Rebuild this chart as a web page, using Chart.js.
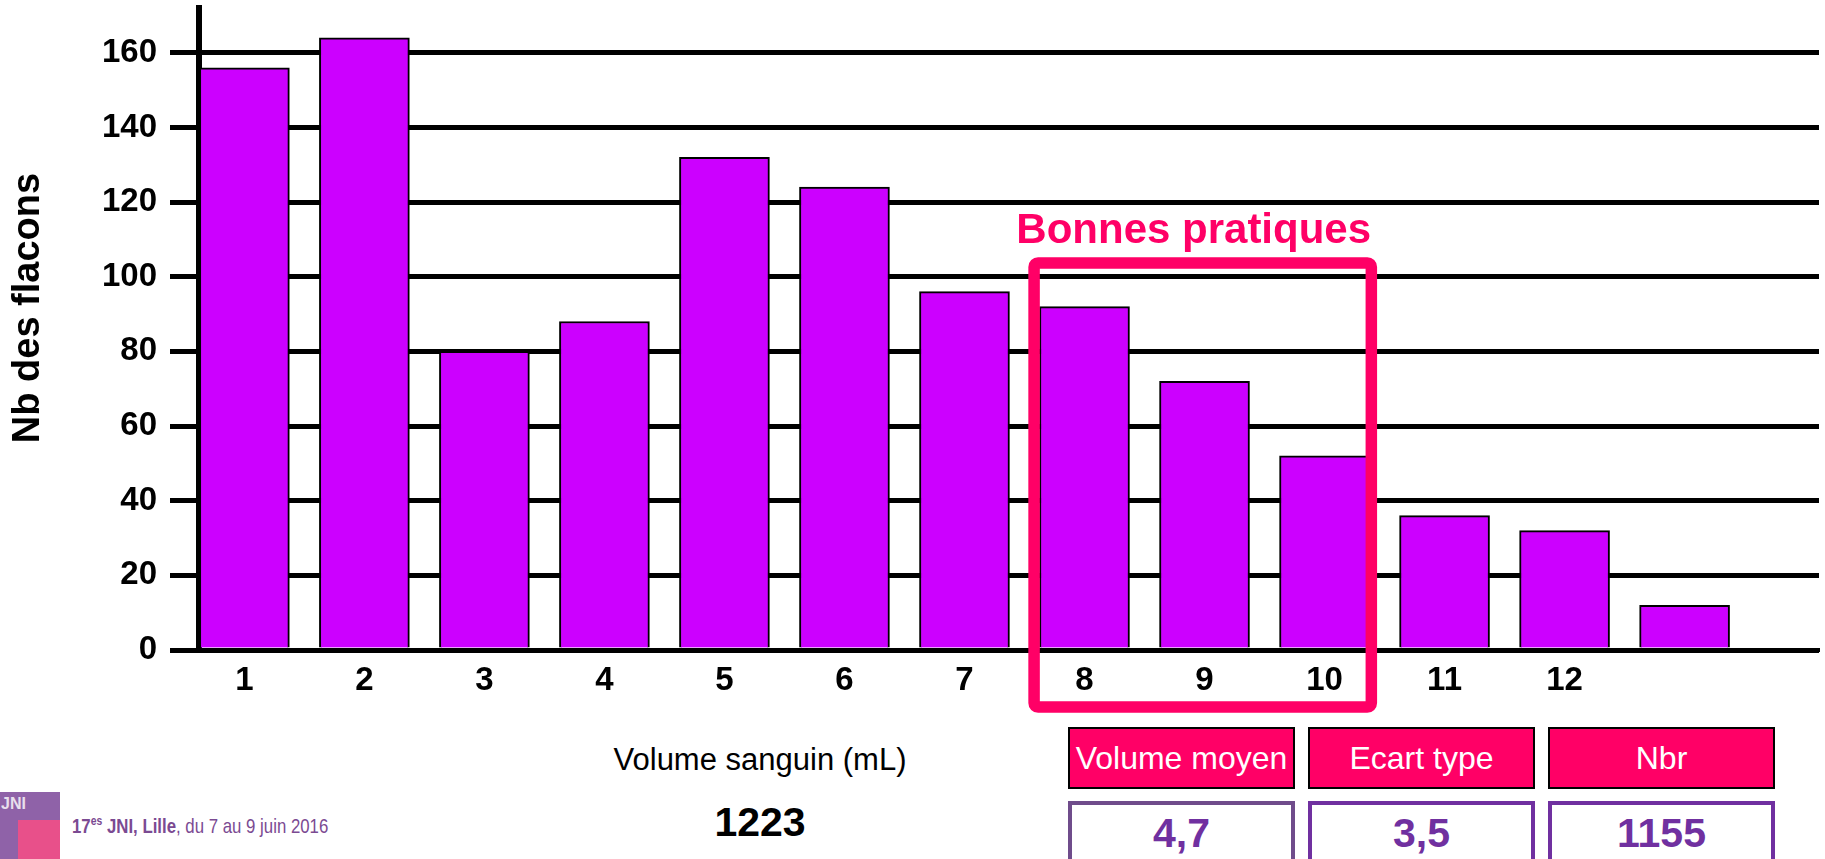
<!DOCTYPE html>
<html lang="fr">
<head>
<meta charset="UTF-8">
<title>Nb des flacons par volume sanguin</title>
<script src="https://cdn.jsdelivr.net/npm/chart.js"></script>
<style>
    html, body { margin: 0; padding: 0; background: #fff; overflow: hidden; }
    body { width: 1825px; height: 859px; position: relative; font-family: "Liberation Sans", Arial, sans-serif; }
    #chart { position: absolute; left: 0; top: 0; }
    .txt { position: absolute; white-space: nowrap; line-height: 1; text-align: center; }
    #axisLabel { left: 560px; width: 400px; top: 744px; font-size: 31px; color: #000; }
    #total { left: 560px; width: 400px; top: 802px; font-size: 41px; font-weight: bold; color: #000; }
    .row { position: absolute; left: 1068px; display: flex; gap: 13px; }
    #headRow { top: 727px; }
    #valueRow { top: 801px; }
    .head { box-sizing: border-box; width: 227px; height: 62px; border: 2px solid #000; background: #FF0066;
            color: #fff; font-size: 32px; line-height: 58px; text-align: center; white-space: nowrap; }
    .value { box-sizing: border-box; width: 227px; height: 80px; border: 4px solid #7030A0; border-bottom: none;
             color: #7030A0; font-size: 41px; font-weight: bold; line-height: 1; padding-top: 8px; text-align: center; }
    .value:first-child { border-color: #6F4C8B; }
    #logo { position: absolute; left: 0; top: 792px; width: 60px; height: 67px; background: #8F62A8; overflow: hidden; }
    #logo .pink { position: absolute; left: 18px; top: 28px; width: 42px; height: 40px; background: #E8508A; }
    #logo .big { position: absolute; left: 1px; top: 3px; color: #fff; font: bold 16px "Liberation Sans", Arial, sans-serif; opacity: 0.8; }
    #footer { position: absolute; left: 72px; top: 815px; font-family: "Liberation Sans", Arial, sans-serif;
              font-size: 21px; line-height: 1; color: #7B4A92; white-space: nowrap;
              transform: scaleX(0.8); transform-origin: 0 0; }
    #footer sup { font-size: 13px; vertical-align: 8px; line-height: 0; }
</style>
</head>
<body>
<canvas id="chart" width="1825" height="720"></canvas>

<div id="axisLabel" class="txt">Volume sanguin (mL)</div>
<div id="total" class="txt"></div>

<div id="headRow" class="row"></div>
<div id="valueRow" class="row"></div>

<div id="logo"><div class="pink"></div><div class="big">JNI</div></div>
<div id="footer"><b>17<sup>es</sup> JNI, Lille</b>, du 7 au 9 juin 2016</div>

<script>
    // Data
    const volumes = ['1', '2', '3', '4', '5', '6', '7', '8', '9', '10', '11', '12', ''];
    const flacons = [156, 164, 80, 88, 132, 124, 96, 92, 72, 52, 36, 32, 12];
    const yTicks = [0, 20, 40, 60, 80, 100, 120, 140, 160];
    const goodPractice = [8, 10];          // categories inside the "Bonnes pratiques" frame
    const statHeaders = ['Volume moyen', 'Ecart type', 'Nbr'];
    const statValues = ['4,7', '3,5', '1155'];
    const totalVolume = '1223';

    const FONT = '"Liberation Sans", Arial, sans-serif';

    document.getElementById('total').textContent = totalVolume;
    const headRow = document.getElementById('headRow');
    const valueRow = document.getElementById('valueRow');
    statHeaders.forEach((h, i) => {
        const hd = document.createElement('div');
        hd.className = 'head';
        hd.textContent = h;
        headRow.appendChild(hd);
        const vd = document.createElement('div');
        vd.className = 'value';
        vd.textContent = statValues[i];
        valueRow.appendChild(vd);
    });

    // y title (placed a bit above the plot centre, as in the slide) + pink frame
    const framePlugin = {
        id: 'bonnesPratiques',
        afterDraw(chart) {
            const { ctx, scales: { x, y } } = chart;

            ctx.save();
            ctx.translate(29, 308);
            ctx.rotate(-Math.PI / 2);
            ctx.fillStyle = '#000';
            ctx.font = 'bold 38px ' + FONT;
            ctx.textAlign = 'center';
            ctx.textBaseline = 'middle';
            ctx.fillText('Nb des flacons', 0, 0);
            ctx.restore();

            const left = x.getPixelForValue(goodPractice[0] - 0.42);
            const right = x.getPixelForValue(goodPractice[1] + 0.39);
            const top = y.getPixelForValue(103.7);
            const bottom = y.getPixelForValue(-15.3);
            ctx.save();
            ctx.strokeStyle = '#FF0066';
            ctx.lineWidth = 11.5;
            ctx.beginPath();
            ctx.roundRect(left, top, right - left, bottom - top, 4);
            ctx.stroke();
            ctx.fillStyle = '#FF0066';
            ctx.font = 'bold 42px ' + FONT;
            ctx.textAlign = 'center';
            ctx.textBaseline = 'alphabetic';
            ctx.fillText('Bonnes pratiques', x.getPixelForValue(8.91), y.getPixelForValue(109));
            ctx.restore();
        }
    };

    // no automatic label padding: the plot area is placed by hand
    const noPad = s => { s.paddingTop = 0; s.paddingBottom = 0; s.paddingLeft = 0; s.paddingRight = 0; };

    new Chart(document.getElementById('chart'), {
        type: 'bar',
        data: {
            datasets: [{
                data: flacons.map((v, i) => ({ x: i + 1, y: v })),
                backgroundColor: '#CC00FF',
                borderColor: '#000',
                borderWidth: 2,
                barThickness: 90
            }]
        },
        options: {
            responsive: false,
            animation: false,
            layout: { padding: { top: 8, right: 6, bottom: 0, left: 0 } },
            plugins: { legend: { display: false }, tooltip: { enabled: false } },
            scales: {
                x: {
                    type: 'linear',
                    min: 0.622,
                    max: 14.12,
                    offset: false,
                    grid: { display: false, drawTicks: false, offset: false },
                    border: { color: '#000', width: 4 },
                    afterBuildTicks: s => { s.ticks = volumes.map((_, i) => ({ value: i + 1 })); },
                    afterFit: s => { s.height = 70; noPad(s); },
                    ticks: {
                        autoSkip: false,
                        maxRotation: 0,
                        padding: 11,
                        color: '#000',
                        font: { family: FONT, size: 33, weight: 'bold' },
                        callback: (v, i) => volumes[i]
                    }
                },
                y: {
                    min: 0,
                    max: 172,
                    afterBuildTicks: s => { s.ticks = yTicks.map(v => ({ value: v })); },
                    afterFit: s => { s.width = 199; noPad(s); },
                    grid: { color: '#000', lineWidth: 5, tickLength: 29 },
                    border: { color: '#000', width: 6 },
                    ticks: {
                        padding: 13,
                        color: '#000',
                        font: { family: FONT, size: 33, weight: 'bold' }
                    }
                }
            }
        },
        plugins: [framePlugin]
    });
</script>
</body>
</html>
